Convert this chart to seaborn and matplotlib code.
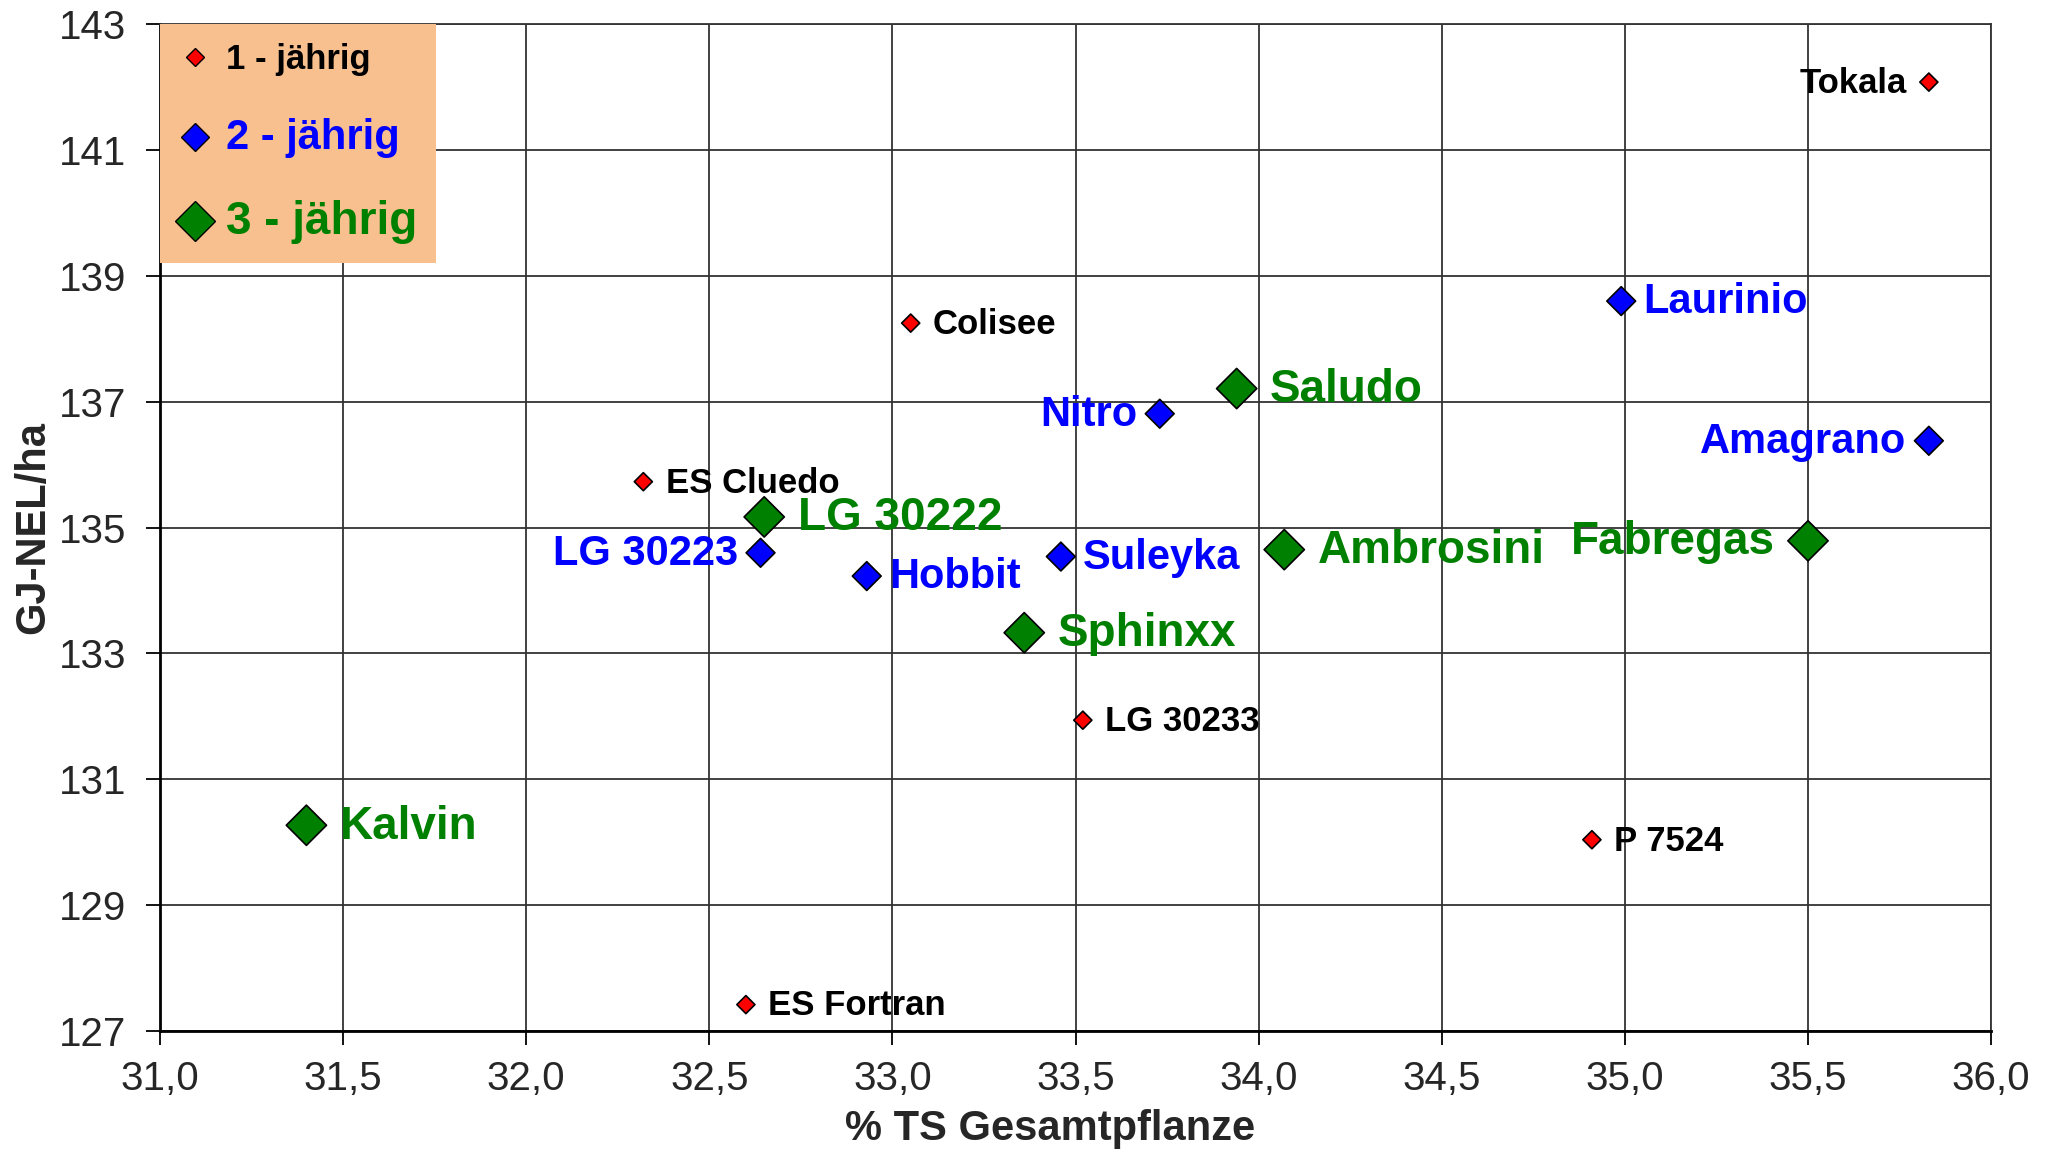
import matplotlib
matplotlib.use('Agg')
import matplotlib.pyplot as plt
from matplotlib.lines import Line2D
import pandas as pd
import seaborn as sns

# Sorten, Reifegruppe (Nutzungsjahre), TS-Gehalt und Energieertrag
sorten = ['Tokala', 'Colisee', 'ES Cluedo', 'LG 30233', 'P 7524', 'ES Fortran',
          'Laurinio', 'Nitro', 'Amagrano', 'LG 30223', 'Hobbit', 'Suleyka',
          'Saludo', 'LG 30222', 'Ambrosini', 'Fabregas', 'Sphinxx', 'Kalvin']
gruppe = ['1 - jährig'] * 6 + ['2 - jährig'] * 6 + ['3 - jährig'] * 6
ts_gehalt = [35.83, 33.05, 32.32, 33.52, 34.91, 32.60,
             34.99, 33.73, 35.83, 32.64, 32.93, 33.46,
             33.94, 32.65, 34.07, 35.50, 33.36, 31.40]
gj_nel = [142.08, 138.25, 135.73, 131.94, 130.04, 127.42,
          138.60, 136.81, 136.38, 134.60, 134.23, 134.54,
          137.21, 135.17, 134.65, 134.79, 133.33, 130.27]
# Beschriftung links vom Punkt
links = ['Tokala', 'Nitro', 'Amagrano', 'LG 30223', 'Fabregas']

df = pd.DataFrame({'Sorte': sorten, 'Gruppe': gruppe,
                   'TS': ts_gehalt, 'NEL': gj_nel})

farben = {'1 - jährig': '#ff0000', '2 - jährig': '#0000ff', '3 - jährig': '#008000'}
textfarben = {'1 - jährig': 'black', '2 - jährig': '#0000ff', '3 - jährig': '#008000'}
groessen = {'1 - jährig': 85, '2 - jährig': 215, '3 - jährig': 420}
textgroesse = {'1 - jährig': 25, '2 - jährig': 30, '3 - jährig': 33}
legendgroesse = {'1 - jährig': 25, '2 - jährig': 30, '3 - jährig': 33}
abstand = {'1 - jährig': 16, '2 - jährig': 16, '3 - jährig': 24}

sns.set_style('white')
plt.rcParams['font.family'] = ['Liberation Sans', 'DejaVu Sans']

fig = plt.figure(figsize=(20.58, 11.52), dpi=100)
ax = fig.add_axes([0.0777, 0.105, 0.8898, 0.874])

sns.scatterplot(data=df, x='TS', y='NEL', hue='Gruppe', size='Gruppe',
                palette=farben, sizes=groessen, marker='D', edgecolor='black',
                linewidth=1.2, legend=False, ax=ax, zorder=3)

for _, row in df.iterrows():
    g = row['Gruppe']
    dx = -abstand[g] if row['Sorte'] in links else abstand[g]
    ax.annotate(row['Sorte'], (row['TS'], row['NEL']), xytext=(dx, -1),
                textcoords='offset points', va='center',
                ha='right' if dx < 0 else 'left', fontsize=textgroesse[g],
                fontweight='bold', color=textfarben[g], zorder=4)

ax.set_xlim(31, 36)
ax.set_ylim(127, 143)
ax.set_xticks([31 + 0.5 * i for i in range(11)])
ax.set_xticklabels([f'{31 + 0.5 * i:.1f}'.replace('.', ',') for i in range(11)])
ax.set_yticks(list(range(127, 144, 2)))
ax.grid(True, color='#333333', linewidth=1.3)
ax.tick_params(axis='both', labelsize=29, length=10, width=1.3, color='black',
               direction='out', bottom=True, left=True)
ax.tick_params(axis='x', pad=11)
ax.tick_params(axis='y', pad=14)
for side in ['top', 'right']:
    ax.spines[side].set_color('#333333')
    ax.spines[side].set_linewidth(1.3)
for side in ['bottom', 'left']:
    ax.spines[side].set_color('black')
    ax.spines[side].set_linewidth(2)

ax.set_xlabel('% TS Gesamtpflanze', fontsize=30, fontweight='bold')
ax.set_ylabel('GJ-NEL/ha', fontsize=30, fontweight='bold')
ax.xaxis.set_label_coords(0.486, -0.077)
ax.yaxis.set_label_coords(-0.058, 0.5)

# Legende
handles = [Line2D([], [], marker='D', linestyle='', markerfacecolor=farben[g],
                  markeredgecolor='black', markersize=groessen[g] ** 0.5)
           for g in farben]
leg = ax.legend(handles, list(farben), loc='upper left', bbox_to_anchor=(0, 1),
                borderaxespad=0, frameon=True, fancybox=False, fontsize=25,
                labelspacing=1.2, handletextpad=0.45, borderpad=0.55,
                handlelength=0.9)
leg.get_frame().set_facecolor('#f9c08f')
leg.get_frame().set_edgecolor('none')
leg.get_frame().set_alpha(1)
leg.set_zorder(5)
for txt, g in zip(leg.get_texts(), farben):
    txt.set_color(textfarben[g])
    txt.set_fontweight('bold')
    txt.set_fontsize(legendgroesse[g])

fig.savefig('out.png', dpi=100)
